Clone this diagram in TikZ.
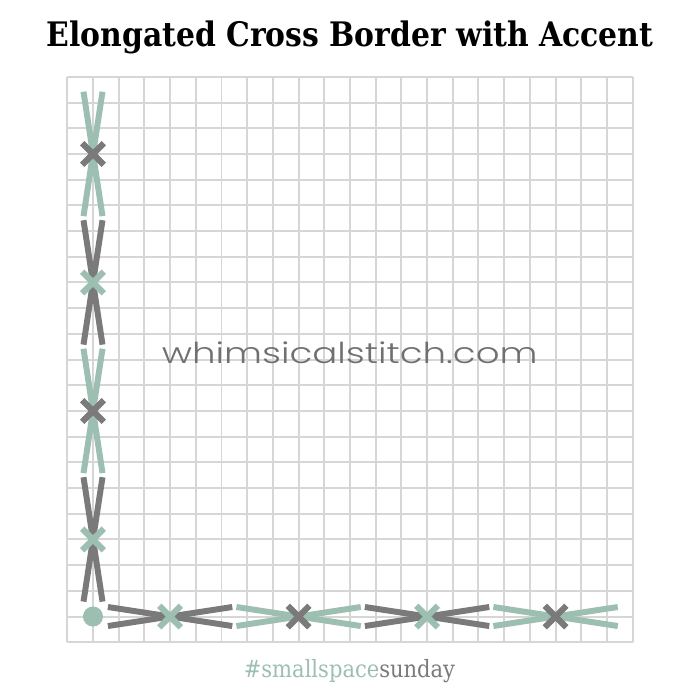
\documentclass[tikz,border=0pt]{standalone}
\usepackage{fontspec}
\usepackage{graphicx}
\newfontfamily\titlefont{DejaVu Serif}
\newfontfamily\wmfont{Poppins Light}
\definecolor{sage}{RGB}{157,191,178}
\definecolor{stitchgray}{RGB}{122,122,122}
\definecolor{gridgray}{RGB}{214,214,214}
\definecolor{wmgray}{RGB}{112,112,112}
\tikzset{
  gridline/.style={draw=gridgray, line width=1.1pt},
  longstitch/.style={line width=3.3pt},
  crossstitch/.style={line width=3.4pt},
  txt/.style={inner sep=0pt, anchor=base}
}
\begin{document}
\begin{tikzpicture}[x=0.5cm,y=0.5cm]
\fill[white] (-2.619,-2.245) rectangle (24.62,24.99);
\useasboundingbox (-2.619,-2.245) rectangle (24.62,24.99);
\draw[gridline, step=0.5cm] (0,0) grid (22,22);
% vertical column
\foreach \c/\lc/\xc in {4/stitchgray/sage, 9/sage/stitchgray, 14/stitchgray/sage, 19/sage/stitchgray}{
  \draw[longstitch, \lc] (1-0.37,\c-2.42) -- (1+0.37,\c+2.42);
  \draw[longstitch, \lc] (1+0.37,\c-2.42) -- (1-0.37,\c+2.42);
  \draw[crossstitch, \xc] (1-0.42,\c-0.42) -- (1+0.42,\c+0.42);
  \draw[crossstitch, \xc] (1-0.42,\c+0.42) -- (1+0.42,\c-0.42);
}
% horizontal row
\foreach \c/\lc/\xc in {4/stitchgray/sage, 9/sage/stitchgray, 14/stitchgray/sage, 19/sage/stitchgray}{
  \draw[longstitch, \lc] (\c-2.42,1-0.37) -- (\c+2.42,1+0.37);
  \draw[longstitch, \lc] (\c-2.42,1+0.37) -- (\c+2.42,1-0.37);
  \draw[crossstitch, \xc] (\c-0.42,1-0.42) -- (\c+0.42,1+0.42);
  \draw[crossstitch, \xc] (\c-0.42,1+0.42) -- (\c+0.42,1-0.42);
}
\fill[sage] (1,1) circle (0.39);
% texts
\node[txt] (title) at (11,23.18) {\resizebox{336pt}{14.2pt}{\titlefont\bfseries Elongated Cross Border with Accent}};
\node[txt, text=wmgray] (wm) at (10.99,10.86) {\resizebox{208pt}{12pt}{\wmfont whimsicalstitch.com}};
\node[txt] (tag) at (10.98,-1.39) {\resizebox{117pt}{10pt}{\titlefont{\color{sage}\#smallspace}{\color{stitchgray}sunday}}};
\end{tikzpicture}
\end{document}
